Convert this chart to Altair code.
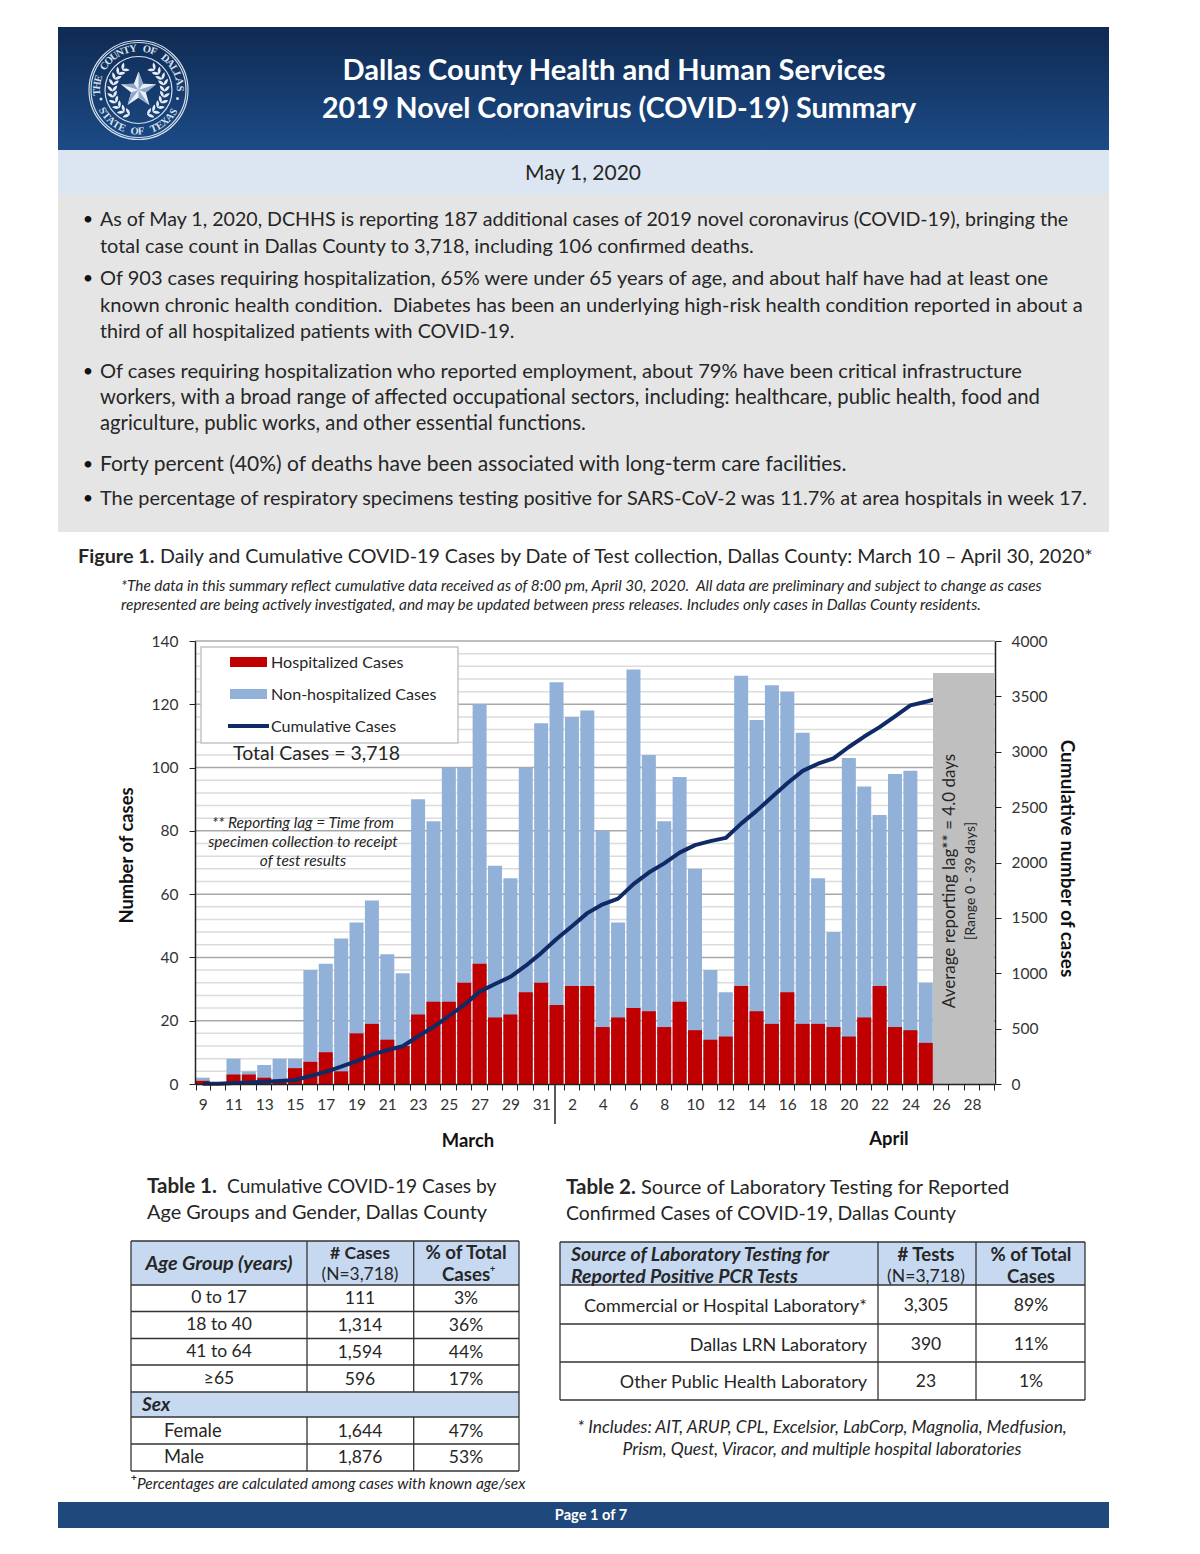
import math
import altair as alt
import pandas as pd

FONT = "Lato"
PX0, PY0 = 195, 641   # page position of the plot area
W, H = 800, 443

march = [9,10,11,12,13,14,15,16,17,18,19,20,21,22,23,24,25,26,27,28,29,30,31]
april = list(range(1, 30))
categories = [f"Mar {d}" for d in march] + [f"Apr {d}" for d in april]
shown = [f"Mar {d}" for d in march if d % 2 == 1] + [f"Apr {d}" for d in april if d % 2 == 0]

hospitalized = [1,0,3,3,2,1,5,7,10,4,16,19,14,12,22,26,26,32,38,21,22,29,32,
                25,31,31,18,21,24,23,18,26,17,14,15,31,23,19,29,19,19,18,15,21,31,18,17,13]
total_daily = [2,0,8,4,6,8,8,36,38,46,51,58,41,35,90,83,100,100,120,69,65,100,114,
               127,116,118,80,51,131,104,83,97,68,36,29,129,115,126,124,111,65,48,103,94,85,98,99,32]
cumulative = [2,2,10,14,20,28,36,72,110,156,207,265,306,341,431,514,614,714,834,903,968,1068,1182,
              1309,1425,1543,1623,1674,1805,1909,1992,2089,2157,2193,2222,2351,2466,2592,2716,2827,
              2892,2940,3043,3137,3222,3320,3419,3451,3490]

minor_grid = [4,8,12,16,24,28,32,36,44,48,52,56,64,68,72,76,84,88,92,96,104,108,112,116,124,128,132,136]
major_grid = [20,40,60,80,100,120,140]
left_ticks = [0,20,40,60,80,100,120,140]
right_ticks = [0,500,1000,1500,2000,2500,3000,3500,4000]

bars = pd.DataFrame({"day": categories[:48], "hosp": hospitalized, "total": total_daily})
line = pd.DataFrame({"day": categories[:49], "cum": cumulative})

x_scale = alt.Scale(domain=categories, paddingInner=0.09, paddingOuter=0.045)
label_expr = "indexof(" + repr(shown) + ", datum.value) >= 0 ? split(datum.value, ' ')[1] : ''"
X = alt.X("day:N", sort=categories, scale=x_scale, title=None,
          axis=alt.Axis(orient="bottom", tickBand="extent", labelExpr=label_expr, labelOverlap=False, labelAngle=0,
                        tickSize=6, labelPadding=7, labelFontSize=15.5, labelColor="#333333",
                        domainColor="#222222", tickColor="#222222", domainWidth=1.5, grid=False, zindex=1))


def PXc(x):
    return x - PX0


def PYc(y):
    return y - PY0


def nx(name="x"):
    return alt.X(f"{name}:Q", scale=None, axis=None, title=None)


def ny(name="y"):
    return alt.Y(f"{name}:Q", scale=None, axis=None, title=None)


def rects(rows, fill, stroke=None, sw=1):
    df = pd.DataFrame([{"x": PXc(a), "x2": PXc(b), "y": PYc(c), "y2": PYc(d)} for a, b, c, d in rows])
    kw = {"fill": fill, "opacity": 1}
    if stroke:
        kw.update(stroke=stroke, strokeWidth=sw)
    return alt.Chart(df).mark_rect(**kw).encode(x=nx(), x2=alt.X2("x2:Q"), y=ny(), y2=alt.Y2("y2:Q"))


def rules(rows, color="#333333", sw=1.3):
    df = pd.DataFrame([{"x": PXc(a), "x2": PXc(b), "y": PYc(c), "y2": PYc(d)} for a, b, c, d in rows])
    return alt.Chart(df).mark_rule(color=color, strokeWidth=sw).encode(x=nx(), x2=alt.X2("x2:Q"), y=ny(), y2=alt.Y2("y2:Q"))


def T(rows, size, weight="normal", style="normal", align="left", color="#262626", angle=0, font=FONT):
    dy = 1 if angle == 0 else 0
    df = pd.DataFrame([{"x": PXc(a), "y": PYc(b + dy), "t": c} for a, b, c in rows])
    return alt.Chart(df).mark_text(fontSize=size, fontWeight=weight, fontStyle=style, align=align,
                                   baseline="middle", color=color, angle=angle, font=font).encode(
        x=nx(), y=ny(), text="t:N")


# ---------- page bands
header_fill = alt.LinearGradient(gradient="linear", x1=0, x2=0, y1=0, y2=1,
                                 stops=[alt.GradientStop(color="#0f2a52", offset=0),
                                        alt.GradientStop(color="#1c4b87", offset=1)])
page = [
    rects([(58, 1109, 27, 150)], header_fill),
    rects([(58, 1109, 150, 195)], "#dce6f2"),
    rects([(58, 1109, 195, 532)], "#e5e5e5"),
    rects([(58, 1109, 1502, 1528)], "#1f497d"),
]

# ---------- seal
CX, CY = 138.5, 90
SEAL = "#d5e0ee"
top_text = "THE COUNTY OF DALLAS"
bottom_text = "STATE OF TEXAS"
letters = []
for i, ch in enumerate(top_text):
    th = -93 + 181 * i / (len(top_text) - 1)
    letters.append({"x": PXc(CX + 41.5 * math.sin(math.radians(th))), "y": PYc(CY - 41.5 * math.cos(math.radians(th))),
                    "t": ch, "a": th % 360})
for i, ch in enumerate(bottom_text):
    th = 240 - 118 * i / (len(bottom_text) - 1)
    letters.append({"x": PXc(CX + 41.5 * math.sin(math.radians(th))), "y": PYc(CY - 41.5 * math.cos(math.radians(th))),
                    "t": ch, "a": (th - 180) % 360})
seal_letters = alt.Chart(pd.DataFrame(letters)).mark_text(fontSize=10.5, fontWeight="bold", font="Liberation Serif",
                                                          color=SEAL, baseline="middle", align="center").encode(
    x=nx(), y=ny(), text="t:N", angle=alt.Angle("a:Q", scale=None))
rings = pd.DataFrame({"x": [PXc(CX)] * 3, "y": [PYc(CY)] * 3, "s": [(2 * 49.5) ** 2, (2 * 47.5) ** 2, (2 * 33.5) ** 2]})
seal_rings = alt.Chart(rings).mark_point(shape="circle", filled=False, color=SEAL, strokeWidth=1.2, opacity=1).encode(
    x=nx(), y=ny(), size=alt.Size("s:Q", scale=None, legend=None))
dots = pd.DataFrame({"x": [PXc(CX - 37.5), PXc(CX + 39)], "y": [PYc(CY + 9), PYc(CY + 8.5)]})
seal_dots = alt.Chart(dots).mark_point(shape="circle", filled=True, color=SEAL, opacity=1, size=9).encode(x=nx(), y=ny())
leaf = "M0,-1 C0.5,-0.4 0.5,0.4 0,1 C-0.5,0.4 -0.5,-0.4 0,-1 Z"
leaves = []
for sgn in (-1, 1):
    for k in range(10):
        th = 160 - 13.5 * k
        r = 26
        px = CX + sgn * r * math.sin(math.radians(th))
        py = CY - r * math.cos(math.radians(th))
        tang = (th - 90) if sgn > 0 else (90 - th)
        for off in (-42, 42):
            a = tang + off
            leaves.append({"x": PXc(px + 3.5 * math.sin(math.radians(a))),
                           "y": PYc(py - 3.5 * math.cos(math.radians(a))), "a": a % 360})
seal_leaves = alt.Chart(pd.DataFrame(leaves)).mark_point(shape=leaf, filled=True, color="#e6edf5", opacity=1, size=60).encode(
    x=nx(), y=ny(), angle=alt.Angle("a:Q", scale=None))
star_pts = []
facets = []
for i in range(10):
    r = 1 if i % 2 == 0 else 0.42
    th = math.radians(36 * i)
    star_pts.append((r * math.sin(th), -r * math.cos(th)))
star = "M" + " L".join(f"{a:.3f},{b:.3f}" for a, b in star_pts) + " Z"
for i in range(0, 10, 2):
    a, b = star_pts[i]
    c, d = star_pts[i + 1]
    facets.append(f"M0,0 L{a:.3f},{b:.3f} L{c:.3f},{d:.3f} Z")
facet_path = " ".join(facets)
centre = pd.DataFrame({"x": [PXc(CX)], "y": [PYc(CY)]})
seal_star = alt.Chart(centre).mark_point(shape=star, filled=True, color="#e9eff6", opacity=1, size=1370).encode(x=nx(), y=ny())
seal_facets = alt.Chart(centre).mark_point(shape=facet_path, filled=True, color="#8fa8c8", opacity=1, size=1370).encode(x=nx(), y=ny())
seal = [seal_rings, seal_dots, seal_leaves, seal_star, seal_facets, seal_letters]

# ---------- page text
head = [
    T([(614, 70, "Dallas County Health and Human Services")], 29.1, weight="bold", align="center", color="#ffffff"),
    T([(619, 108, "2019 Novel Coronavirus (COVID-19) Summary")], 28.7, weight="bold", align="center", color="#ffffff"),
    T([(583, 173, "May 1, 2020")], 21, align="center"),
]
body_lines = [
    (219, 19.62, "As of May 1, 2020, DCHHS is reporting 187 additional cases of 2019 novel coronavirus (COVID-19), bringing the"),
    (246, 19.9, "total case count in Dallas County to 3,718, including 106 confirmed deaths."),
    (278, 20.0, "Of 903 cases requiring hospitalization, 65% were under 65 years of age, and about half have had at least one"),
    (305, 20.08, "known chronic health condition.\u00a0 Diabetes has been an underlying high-risk health condition reported in about a"),
    (331, 19.7, "third of all hospitalized patients with COVID-19."),
    (371, 20.1, "Of cases requiring hospitalization who reported employment, about 79% have been critical infrastructure"),
    (397, 20.25, "workers, with a broad range of affected occupational sectors, including: healthcare, public health, food and"),
    (423, 20.2, "agriculture, public works, and other essential functions."),
    (464, 21.0, "Forty percent (40%) of deaths have been associated with long-term care facilities."),
    (498, 19.9, "The percentage of respiratory specimens testing positive for SARS-CoV-2 was 11.7% at area hospitals in week 17."),
]
bullet_y = [219, 278, 371, 464, 498]
body = [T([(100, y, s)], size) for y, size, s in body_lines] + [
    T([(88, y, "•") for y in bullet_y], 18, align="center", color="#111111"),
    T([(78, 556, "Figure 1.")], 19.8, weight="bold"),
    T([(160, 556, "Daily and Cumulative COVID-19 Cases by Date of Test collection, Dallas County: March 10 – April 30, 2020*")], 19.65),
    T([(121, 585, "*The data in this summary reflect cumulative data received as of 8:00 pm, April 30, 2020.\u00a0 All data are preliminary and subject to change as cases")],
      15.33, style="italic"),
    T([(121, 604, "represented are being actively investigated, and may be updated between press releases. Includes only cases in Dallas County residents.")],
      15.45, style="italic"),
]

# ---------- chart
scale_left = alt.Scale(domain=[0, 140])
grid_minor = alt.Chart(pd.DataFrame({"v": minor_grid})).mark_rule(color="#dcdcdc", strokeWidth=1.5).encode(
    y=alt.Y("v:Q", scale=scale_left, title=None, axis=None))
grid_major = alt.Chart(pd.DataFrame({"v": major_grid})).mark_rule(color="#a8a8a8", strokeWidth=1.5).encode(
    y=alt.Y("v:Q", scale=scale_left, title=None, axis=None))
blue = alt.Chart(bars).mark_bar(color="#92b1d8").encode(
    x=X,
    y=alt.Y("total:Q", scale=scale_left, title="Number of cases",
            axis=alt.Axis(orient="left", values=left_ticks, format="d", tickSize=6, labelPadding=11, labelFontSize=15.5,
                          labelColor="#333333", domainColor="#222222", tickColor="#222222", domainWidth=1.5, grid=False,
                          titleFontSize=18.4, titleFontWeight="bold", titleColor="#111111", titlePadding=15,
                          titleY=214, zindex=1)))
red = alt.Chart(bars).mark_bar(color="#c00000").encode(
    x=X, y=alt.Y("hosp:Q", scale=scale_left, title=None, axis=None))
cum_line = alt.Chart(line).mark_line(color="#0f2a66", strokeWidth=4, strokeJoin="round").encode(
    x=X,
    y=alt.Y("cum:Q", scale=alt.Scale(domain=[0, 4000]), title="Cumulative number of cases",
            axis=alt.Axis(orient="right", values=right_ticks, format="d", tickSize=6, labelPadding=10, labelFontSize=15.5,
                          labelColor="#333333", domainColor="#222222", tickColor="#222222", domainWidth=1.5, grid=False,
                          titleFontSize=19, titleFontWeight="bold", titleColor="#111111", titlePadding=10,
                          titleY=217, zindex=1)))

overlay = [
    rects([(933, 994, 673, 1084)], "#bfbfbf"),
    rules([(555, 555, 1084, 1124)], color="#222222", sw=1.5),
    rects([(201, 458, 647, 743)], "#ffffff", stroke="#c4c4c4", sw=1.5),
    rects([(230, 267, 657, 667)], "#c00000"),
    rects([(230, 267, 689, 699)], "#92b1d8"),
    rules([(228, 269, 726, 726)], color="#0f2a66", sw=4),
    T([(271, 662, "Hospitalized Cases"), (271, 694, "Non-hospitalized Cases"), (271, 726, "Cumulative Cases")], 16.1),
    T([(233, 753, "Total Cases = 3,718")], 19.5),
    T([(303, 822, "** Reporting lag = Time from"), (303, 841, "specimen collection to receipt"), (303, 860, "of test results")],
      15.5, style="italic", align="center"),
    T([(950, 881, "Average reporting lag**  = 4.0 days")], 17, align="center", angle=270),
    T([(971, 881, "[Range 0 - 39 days]")], 14, align="center", angle=270),
    T([(468, 1140, "March"), (889, 1138, "April")], 18.4, weight="bold", align="center", color="#111111"),
]

# ---------- tables
t1x = [131, 307, 413.7, 519]
t1y = [1241, 1285, 1311.5, 1338.5, 1365, 1392, 1417, 1444, 1471]
t2x = [560, 878, 976, 1085]
t2y = [1242, 1285, 1324, 1362, 1400]
tables = [
    rects([(131, 519, 1241, 1285), (131, 519, 1392, 1417), (560, 1085, 1242, 1285)], "#c6d9f1"),
    rules([(131, 519, y, y) for y in t1y] + [(131, 131, 1241, 1471), (519, 519, 1241, 1471)]
          + [(x, x, 1241, 1392) for x in t1x[1:3]] + [(x, x, 1417, 1471) for x in t1x[1:3]]
          + [(560, 1085, y, y) for y in t2y] + [(x, x, 1242, 1400) for x in t2x]),
    T([(147, 1186, "Table 1.")], 20.5, weight="bold"),
    T([(227, 1186, "Cumulative COVID-19 Cases by")], 19.2),
    T([(147, 1212, "Age Groups and Gender, Dallas County")], 19.9),
    T([(566, 1187, "Table 2.")], 20.5, weight="bold"),
    T([(641, 1187, "Source of Laboratory Testing for Reported")], 20.1),
    T([(566, 1213, "Confirmed Cases of COVID-19, Dallas County")], 19.4),
    T([(219, 1263, "Age Group (years)")], 19.8, weight="bold", style="italic", align="center"),
    T([(142, 1404, "Sex")], 19, weight="bold", style="italic"),
    T([(360, 1253, "# Cases")], 17.6, weight="bold", align="center"),
    T([(466, 1252, "% of Total"), (466, 1274, "Cases")], 18.7, weight="bold", align="center"),
    T([(490, 1268, "+")], 9, weight="bold"),
    T([(360, 1274, "(N=3,718)")], 17.4, align="center"),
    T([(219, 1297, "0 to 17"), (219, 1324, "18 to 40"), (219, 1351, "41 to 64"), (219, 1378, "≥65"),
       (360, 1298, "111"), (360, 1325, "1,314"), (360, 1352, "1,594"), (360, 1379, "596"),
       (360, 1431, "1,644"), (360, 1457, "1,876"),
       (466, 1298, "3%"), (466, 1325, "36%"), (466, 1352, "44%"), (466, 1379, "17%"),
       (466, 1431, "47%"), (466, 1457, "53%")], 17.5, align="center"),
    T([(164, 1430, "Female"), (164, 1456, "Male")], 18.4),
    T([(131, 1477, "+")], 10, weight="bold"),
    T([(137, 1483, "Percentages are calculated among cases with known age/sex")], 15.5, style="italic"),
    T([(571, 1254, "Source of Laboratory Testing for"), (571, 1276, "Reported Positive PCR Tests")], 19.4, weight="bold", style="italic"),
    T([(926, 1254, "# Tests"), (1031, 1254, "% of Total"), (1031, 1276, "Cases")], 18.6, weight="bold", align="center"),
    T([(926, 1276, "(N=3,718)")], 17.6, align="center"),
    T([(867, 1306, "Commercial or Hospital Laboratory*"), (867, 1345, "Dallas LRN Laboratory"), (867, 1382, "Other Public Health Laboratory")],
      18, align="right"),
    T([(926, 1305, "3,305"), (926, 1344, "390"), (926, 1381, "23"), (1031, 1305, "89%"), (1031, 1344, "11%"), (1031, 1381, "1%")],
      17.5, align="center"),
    T([(822, 1427, "* Includes: AIT, ARUP, CPL, Excelsior, LabCorp, Magnolia, Medfusion,"),
       (822, 1449, "Prism, Quest, Viracor, and multiple hospital laboratories")], 17.4, style="italic", align="center"),
    T([(591, 1515, "Page 1 of 7")], 14.6, weight="bold", align="center", color="#ffffff"),
]

chart = alt.layer(*page, *seal, *head, *body, grid_minor, grid_major, blue, red, cum_line, *overlay, *tables).resolve_scale(y="independent").properties(
    width=W, height=H,
    padding={"left": PX0 - 8, "top": PY0 - 8, "right": 197, "bottom": 462},
    autosize=alt.AutoSizeParams(type="none"),
    background="#ffffff",
).configure_view(stroke=None).configure_axis(labelFont=FONT, titleFont=FONT)

chart.save("out.html", embed_options={"renderer": "svg", "actions": False})
